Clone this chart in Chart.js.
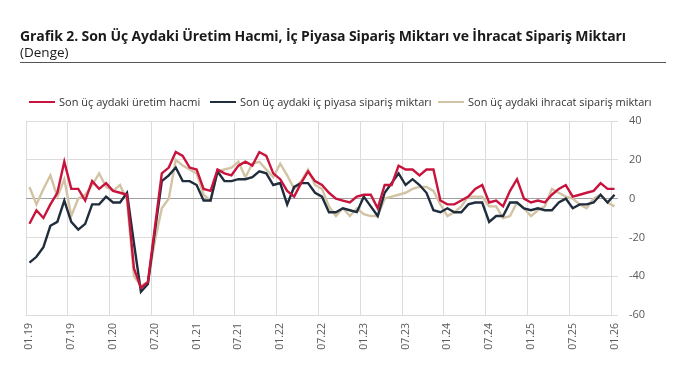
<!DOCTYPE html>
<html>
<head>
<meta charset="utf-8">
<script src="https://cdn.jsdelivr.net/npm/chart.js@4.4.1/dist/chart.umd.min.js"></script>
<style>
  html, body { margin: 0; padding: 0; background: #fff; }
  #wrap { position: relative; width: 680px; height: 389px; overflow: hidden; font-family: "Open Sans", sans-serif; }
  #chart { position: absolute; left: 0; top: 0; }
  #title { position: absolute; left: 20px; top: 27px; width: 646px; border-bottom: 1px solid #555; padding-bottom: 2px; color: #1a1a1a; }
  #title .t1 { font-weight: bold; font-size: 14px; line-height: 18px; letter-spacing: -0.1px; }
  #title .t2 { font-size: 13.5px; line-height: 15px; }
  #legend { position: absolute; top: 94px; left: 0; width: 680px; font-size: 11px; color: #333; }
  #legend .item { position: absolute; white-space: nowrap; }
  #legend .sw { display: inline-block; width: 26px; height: 2.5px; vertical-align: middle; margin-right: 4px; position: relative; top: -1px; }
</style>
</head>
<body>
<div id="wrap">
  <canvas id="chart" width="680" height="389"></canvas>
  <div id="title">
    <div class="t1">Grafik 2. Son Üç Aydaki Üretim Hacmi, İç Piyasa Sipariş Miktarı ve İhracat Sipariş Miktarı</div>
    <div class="t2">(Denge)</div>
  </div>
  <div id="legend"></div>
</div>
<script>
// months 01.19 .. 01.26
const months = [];
for (let y = 19; y <= 26; y++) {
    for (let m = 1; m <= 12; m++) {
        if (y === 26 && m > 1) break;
        months.push(String(m).padStart(2, '0') + '.' + y);
    }
}

const seriesNames = [
    'Son üç aydaki üretim hacmi',
    'Son üç aydaki iç piyasa sipariş miktarı',
    'Son üç aydaki ihracat sipariş miktarı'
];
const seriesColors = ['#c8143c', '#1f2d3d', '#d3c3a5'];

const uretim = [
    -13, -6, -10, -3, 3, 19, 5, 5, -1, 9, 5, 8, 4, 3, 2,
    -36, -46, -43, -15, 13, 16, 24, 22, 16, 15, 5, 4,
    15, 13, 12, 17, 19, 17, 24, 22, 13, 10, 4, 1, 8, 14, 9,
    7, 3, 0, -1, -2, 1, 2, 2, -5, 7, 7, 17, 15, 15, 12, 15, 15,
    -1, -3, -3, -1, 1, 5, 7, -2, -1, -4, 4, 10, 0,
    -2, -1, -2, 2, 5, 7, 1, 2, 3, 4, 8, 5, 5
];
const icPiyasa = [
    -33, -30, -25, -14, -12, -1, -12, -16, -13, -3, -3, 1, -2, -2, 3,
    -23, -48, -44, -17, 9, 12, 16, 9, 9, 7, -1, -1,
    14, 9, 9, 10, 10, 11, 14, 13, 7, 8, -3, 6, 8, 8, 3,
    1, -7, -7, -5, -6, -7, 1, -4, -9, 3, 8, 13, 7, 10, 7, 3, -6,
    -7, -5, -7, -7, -3, -2, -2, -12, -9, -9, -2, -2, -5,
    -6, -5, -6, -6, -2, 0, -5, -3, -3, -2, 2, -2, 2
];
const ihracat = [
    6, -3, 5, 12, 1, 10, -9, 0, 2, 7, 13, 6, 4, 7, -1,
    -40, -45, -43, -22, -5, 0, 20, 17, 15, 13, 2, -1,
    14, 15, 16, 19, 11, 18, 19, 15, 11, 18, 12, 5, 9, 15, 7,
    5, -4, -9, -5, -9, -5, -8, -9, -9, 0, 1, 2, 3, 5, 6, 6, 4,
    -3, -9, -7, -4, 1, 1, 1, -4, -4, -10, -9, -2, -5,
    -9, -6, -4, 5, 3, 1, 0, -3, -5, 0, 2, -2, -4
];
const yTicks = [-60, -40, -20, 0, 20, 40];

// legend
const legendPos = [29, 210, 438];
const legend = document.getElementById('legend');
seriesNames.forEach((name, i) => {
    const item = document.createElement('div');
    item.className = 'item';
    item.style.left = legendPos[i] + 'px';
    item.innerHTML = `<span class="sw" style="background:${seriesColors[i]}"></span>${name}`;
    legend.appendChild(item);
});

const seriesData = [uretim, icPiyasa, ihracat];
const ctx = document.getElementById('chart').getContext('2d');
new Chart(ctx, {
    type: 'line',
    data: {
        labels: months,
        datasets: seriesData.map((d, i) => ({
            label: seriesNames[i],
            data: d,
            borderColor: seriesColors[i],
            backgroundColor: seriesColors[i],
            borderWidth: 2.4,
            pointRadius: 0,
            tension: 0,
            fill: false
        }))
    },
    options: {
        responsive: false,
        animation: false,
        layout: { padding: { top: 121, left: 26, right: 0, bottom: 0 } },
        plugins: {
            legend: { display: false },
            tooltip: { enabled: false }
        },
        scales: {
            x: {
                offset: true,
                grid: {
                    offset: true,
                    drawTicks: false,
                    color: (c) => (c.index % 6 === 0 ? '#dcdcdc' : 'rgba(0,0,0,0)'),
                    lineWidth: 1
                },
                border: { display: false },
                ticks: {
                    autoSkip: false,
                    maxRotation: 90,
                    minRotation: 90,
                    padding: 8,
                    color: '#595959',
                    font: { family: 'Open Sans', size: 10.5 },
                    callback: function(val, index) {
                        return index % 6 === 0 ? this.getLabelForValue(val) : '';
                    }
                },
                afterFit: (s) => { s.height = 389 - 315; }
            },
            y: {
                position: 'right',
                min: -60,
                max: 40,
                afterBuildTicks: (s) => { s.ticks = yTicks.map(v => ({ value: v })); },
                grid: {
                    drawTicks: false,
                    color: (c) => (c.tick && c.tick.value === 0 ? '#a0a0a0' : '#dcdcdc'),
                    lineWidth: 1
                },
                border: { display: false },
                ticks: {
                    padding: 11,
                    color: '#595959',
                    font: { family: 'Open Sans', size: 11 }
                },
                afterFit: (s) => { s.width = 680 - 618; }
            }
        }
    }
});
</script>
</body>
</html>
